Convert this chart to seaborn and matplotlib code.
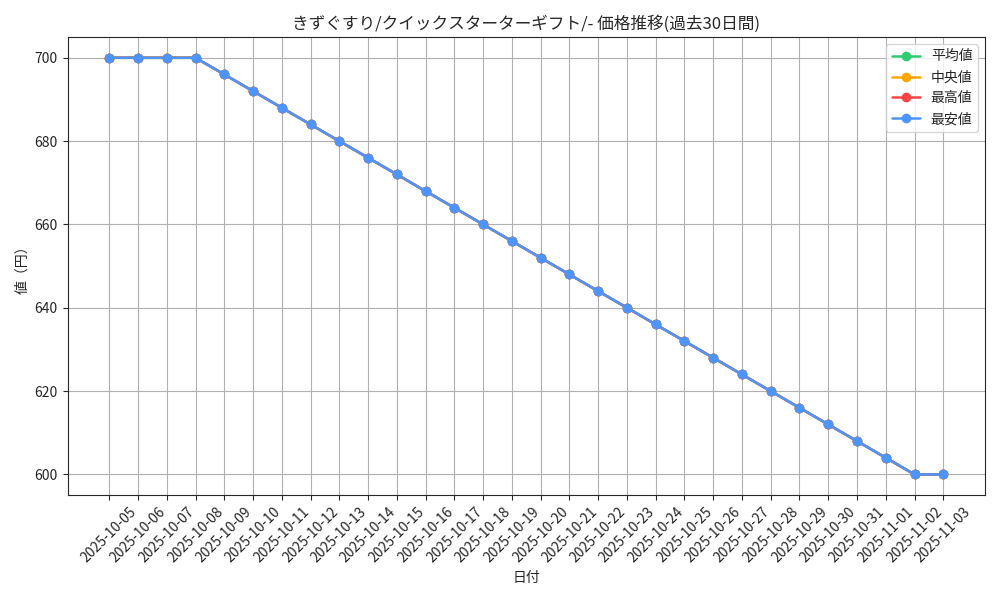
import pandas as pd
import matplotlib
matplotlib.use("Agg")
import matplotlib.pyplot as plt
import seaborn as sns

dates = ["2025-10-05", "2025-10-06", "2025-10-07", "2025-10-08", "2025-10-09",
         "2025-10-10", "2025-10-11", "2025-10-12", "2025-10-13", "2025-10-14",
         "2025-10-15", "2025-10-16", "2025-10-17", "2025-10-18", "2025-10-19",
         "2025-10-20", "2025-10-21", "2025-10-22", "2025-10-23", "2025-10-24",
         "2025-10-25", "2025-10-26", "2025-10-27", "2025-10-28", "2025-10-29",
         "2025-10-30", "2025-10-31", "2025-11-01", "2025-11-02", "2025-11-03"]
mean_price = [700, 700, 700, 700, 696, 692, 688, 684, 680, 676,
              672, 668, 664, 660, 656, 652, 648, 644, 640, 636,
              632, 628, 624, 620, 616, 612, 608, 604, 600, 600]
median_price = [700, 700, 700, 700, 696, 692, 688, 684, 680, 676,
                672, 668, 664, 660, 656, 652, 648, 644, 640, 636,
                632, 628, 624, 620, 616, 612, 608, 604, 600, 600]
max_price = [700, 700, 700, 700, 696, 692, 688, 684, 680, 676,
             672, 668, 664, 660, 656, 652, 648, 644, 640, 636,
             632, 628, 624, 620, 616, 612, 608, 604, 600, 600]
min_price = [700, 700, 700, 700, 696, 692, 688, 684, 680, 676,
             672, 668, 664, 660, 656, 652, 648, 644, 640, 636,
             632, 628, 624, 620, 616, 612, 608, 604, 600, 600]

series = [("平均値", mean_price, "#2ecc71"),
          ("中央値", median_price, "#ffa500"),
          ("最高値", max_price, "#ff4444"),
          ("最安値", min_price, "#4d94ff")]

sns.set_style("ticks")
plt.rcParams["font.family"] = ["Noto Sans CJK JP", "DejaVu Sans"]

fig, ax = plt.subplots(figsize=(10, 6), dpi=100)
for name, vals, col in series:
    df = pd.DataFrame({"date": dates, "price": vals})
    sns.lineplot(data=df, x="date", y="price", ax=ax, color=col, marker="o",
                 markersize=7, markeredgewidth=0, linewidth=1.8, label=name, sort=False)

ax.set_title("きずぐすり/クイックスターターギフト/- 価格推移(過去30日間)", fontsize=12)
ax.set_xlabel("日付", fontsize=10)
ax.set_ylabel("値（円）", fontsize=10)
ax.grid(True, color="#b0b0b0", linewidth=0.8)
plt.xticks(rotation=45)
ax.legend(loc="upper right")
plt.tight_layout()
plt.savefig("out.png")
